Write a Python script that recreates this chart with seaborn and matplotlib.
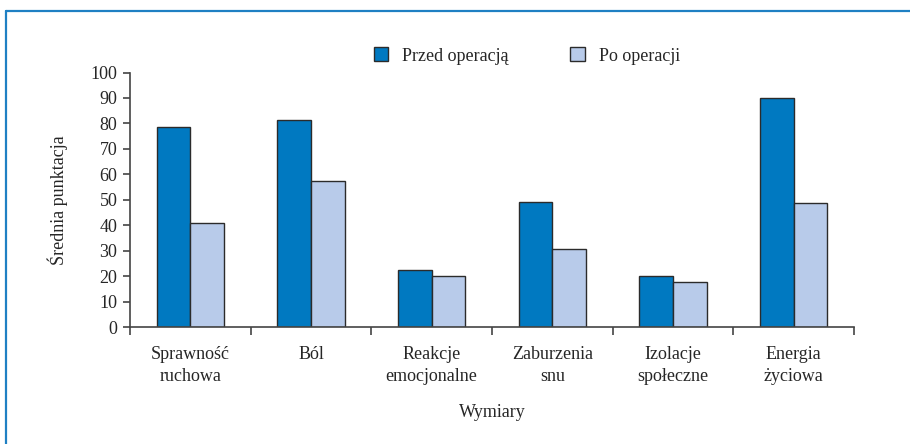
import matplotlib
matplotlib.use("Agg")
import matplotlib.pyplot as plt
import seaborn as sns
import pandas as pd
from matplotlib.patches import Patch
from matplotlib.lines import Line2D

categories = ["Sprawność\nruchowa", "Ból", "Reakcje\nemocjonalne", "Zaburzenia\nsnu",
              "Izolacje\nspołeczne", "Energia\nżyciowa"]
series_names = ["Przed operacją", "Po operacji"]
before = [78.5, 81.2, 22.5, 49.0, 20.0, 90.0]
after = [41.0, 57.5, 20.0, 30.5, 17.8, 48.8]
yticks = [0, 10, 20, 30, 40, 50, 60, 70, 80, 90, 100]

df = pd.DataFrame({
    "Wymiary": categories * 2,
    "value": before + after,
    "series": [series_names[0]] * len(categories) + [series_names[1]] * len(categories),
})

sns.set_theme(style="white")
plt.rcParams["font.family"] = ["Liberation Serif", "DejaVu Serif"]

colors = ["#0079C1", "#B8CBEA"]
fig = plt.figure(figsize=(9.10, 4.44), dpi=100)
ax = fig.add_axes([130 / 910, 1 - 327 / 444, (854 - 130) / 910, (327 - 72.5) / 444])

sns.barplot(data=df, x="Wymiary", y="value", hue="series", palette=colors,
            width=0.56, edgecolor="#2b2b2b", linewidth=1.0, ax=ax, legend=False,
            saturation=1)

ax.set_xlim(-0.5, len(categories) - 0.5)
ax.set_ylim(0, 100)
ax.set_yticks(yticks)
ax.set_yticklabels([str(t) for t in yticks], fontsize=13)
ax.set_xticks([i - 0.5 for i in range(len(categories) + 1)])
ax.set_xticklabels([])
ax.set_xticks(range(len(categories)), minor=True)
ax.set_xticklabels(categories, minor=True, fontsize=13, linespacing=1.35)
ax.tick_params(axis="x", which="major", direction="out", length=6, width=1.2, color="#444444", bottom=True)
ax.tick_params(axis="x", which="minor", length=0, pad=14)
ax.tick_params(axis="y", direction="out", length=5, width=1.2, color="#444444", left=True, pad=4)
for s in ["top", "right"]:
    ax.spines[s].set_visible(False)
for s in ["left", "bottom"]:
    ax.spines[s].set_color("#444444")
    ax.spines[s].set_linewidth(1.2)

ax.set_xlabel("Wymiary", fontsize=13, labelpad=14)
ax.set_ylabel("Średnia punktacja", fontsize=13, labelpad=16)

handles = [Patch(facecolor=c, edgecolor="#2b2b2b", linewidth=1.0) for c in colors]
fig.legend(handles, series_names, loc="center", bbox_to_anchor=(527 / 910, 1 - 56 / 444),
           ncol=2, frameon=False, fontsize=13, handlelength=0.8, handleheight=0.8,
           columnspacing=3.4, handletextpad=0.8)

# outer frame
fig.add_artist(Line2D([6 / 910, 6 / 910], [0, 1 - 11 / 444], transform=fig.transFigure,
                      color="#1F80C3", linewidth=1.6))
fig.add_artist(Line2D([6 / 910, 1], [1 - 11 / 444, 1 - 11 / 444], transform=fig.transFigure,
                      color="#1F80C3", linewidth=1.6))

fig.savefig("out.png", dpi=100)
